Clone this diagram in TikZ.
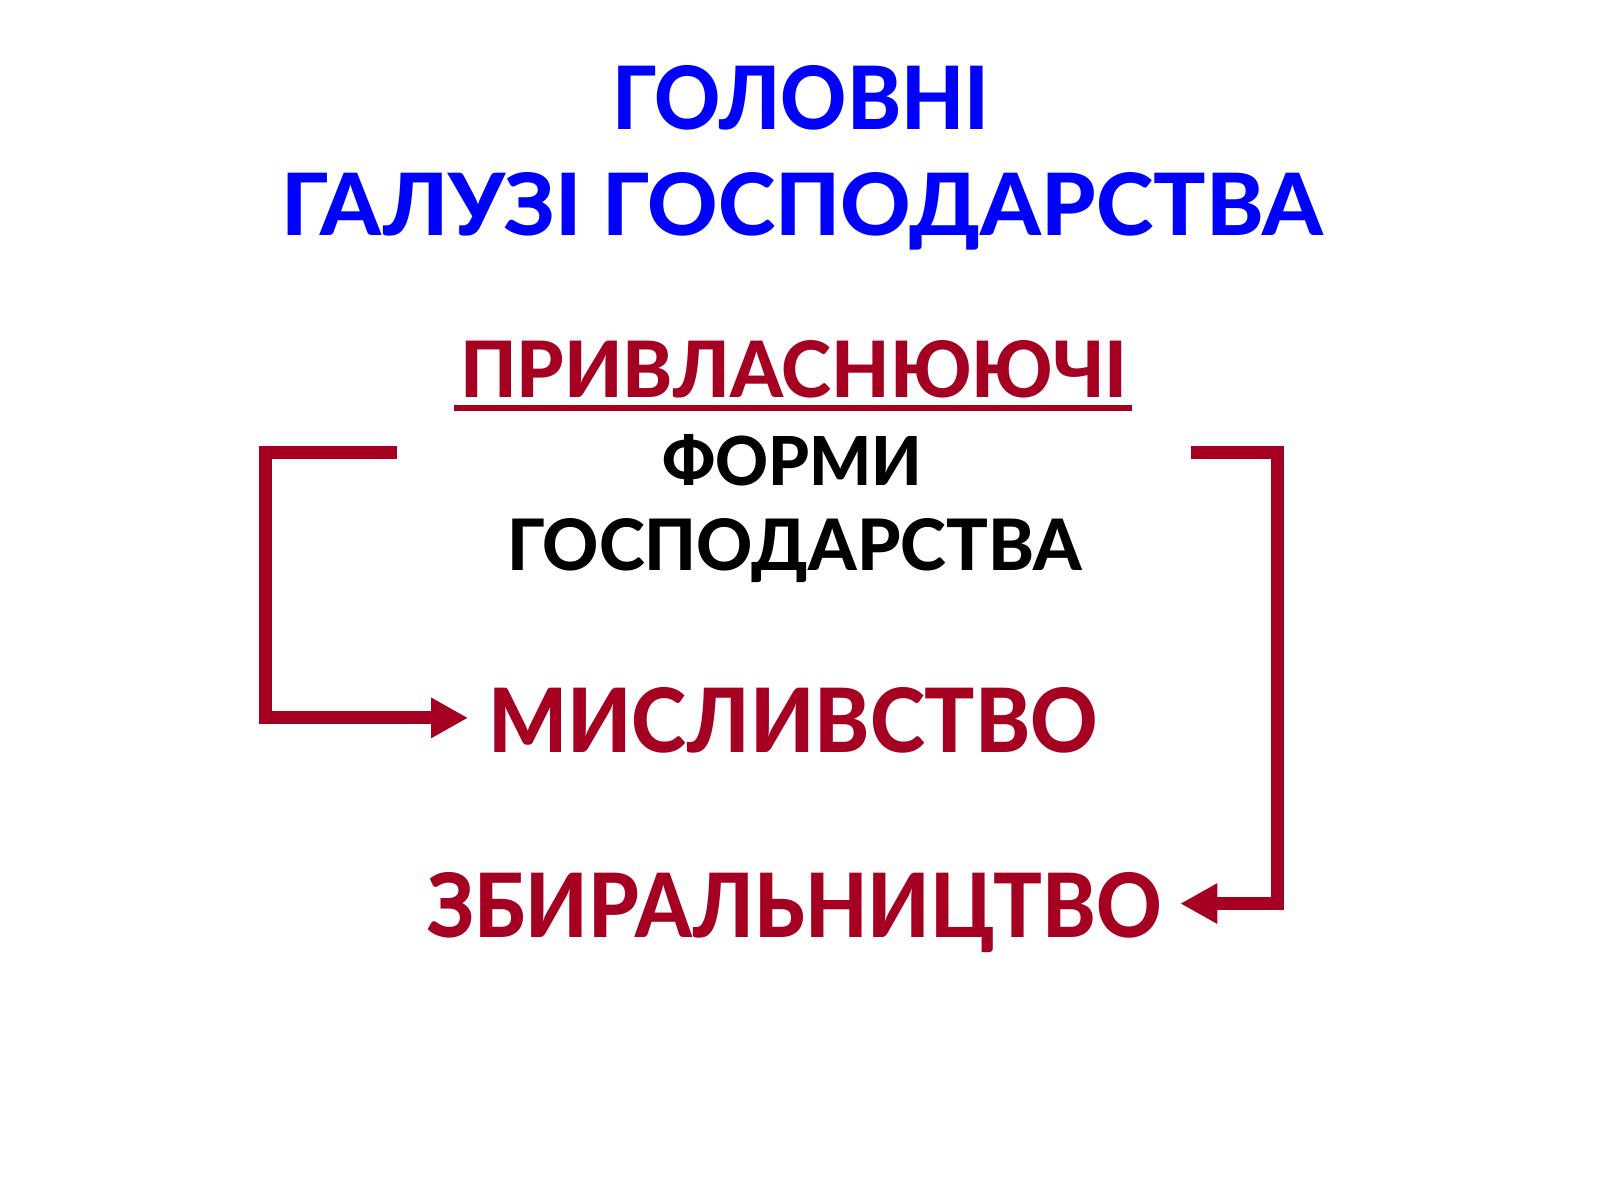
\documentclass[tikz,border=0pt]{standalone}
\usepackage{graphicx}
\usepackage{fontspec}
\setmainfont{Lato}
\IfFontExistsTF{Lato Heavy}{\newfontfamily\heavyfont{Lato Heavy}}{\newfontfamily\heavyfont{Lato}[UprightFont=* Bold]}
\usetikzlibrary{arrows.meta,calc}
\definecolor{tblue}{RGB}{0,0,255}
\definecolor{tred}{RGB}{165,0,33}
\newcommand{\fitword}[3]{\resizebox{#1pt}{#2pt}{\heavyfont #3}}
\begin{document}
\begin{tikzpicture}[x=1pt,y=-1pt,
  lbl/.style={inner sep=0pt,outer sep=0pt,anchor=north west},
  conn/.style={draw=tred,line width=13pt,line join=miter,-{Triangle[length=37pt,width=38pt]}},
  uline/.style={draw=tred,line width=6pt}
]
\fill[white] (0,0) rectangle (1600,1200);
\useasboundingbox (0,0) rectangle (1600,1200);
\node[lbl,text=tblue] (t1) at (612,65) {\fitword{377}{64}{ГОЛОВНІ}};
\node[lbl,text=tblue] (t2) at (281,172) {\fitword{1042}{63}{ГАЛУЗІ ГОСПОДАРСТВА}};
\node[lbl,text=tred] (priv) at (460,340) {\fitword{667}{57}{ПРИВЛАСНЮЮЧІ}};
\node[lbl] (f1) at (662,434) {\fitword{260}{51}{ФОРМИ}};
\node[lbl] (f2) at (507,518) {\fitword{575}{52}{ГОСПОДАРСТВА}};
\node[lbl,text=tred] (mysl) at (488,687) {\fitword{610}{65}{МИСЛИВСТВО}};
\node[lbl,text=tred] (zbyr) at (427,872) {\fitword{734}{65}{ЗБИРАЛЬНИЦТВО}};
\draw[uline] ($(priv.south west)+(-6,10)$) -- ($(priv.south east)+(5,10)$);
\coordinate (ls) at (397,452.5);
\coordinate (rs) at (1191,452.5);
\draw[conn] (ls) -- (265,452.5) |- ($(mysl.west)+(-20,-2)$);
\draw[conn] (rs) -- (1277,452.5) |- ($(zbyr.base east)+(19,-33.5)$);
\end{tikzpicture}
\end{document}
